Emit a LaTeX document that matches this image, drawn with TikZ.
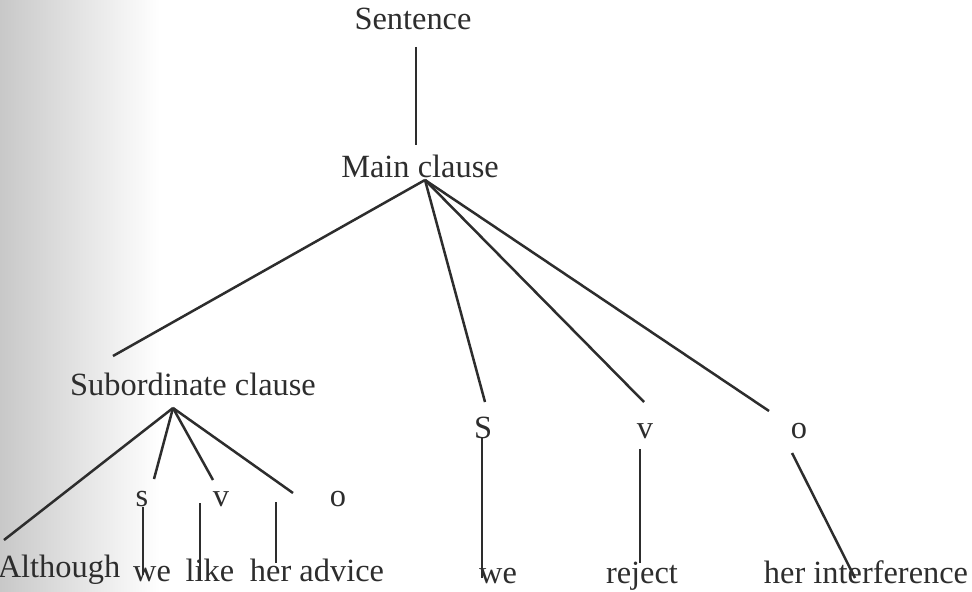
\documentclass[tikz,border=0pt]{standalone}
\usepackage{fontspec}
\setmainfont{Liberation Serif}
\usepackage{tikz}
\usetikzlibrary{positioning}
\definecolor{inkgray}{RGB}{45,45,45}
\definecolor{scangray}{RGB}{200,200,200}

\begin{document}
\begin{tikzpicture}[
  x=0.5pt, y=-0.5pt,
  word/.style={anchor=base, inner sep=0pt, text=inkgray, font=\fontsize{16.2}{19}\selectfont},
  branch/.style={draw=inkgray, line width=1.25pt},
  stem/.style={draw=inkgray, line width=0.75pt}
]
  \useasboundingbox (0,0) rectangle (972,592);
  \shade[left color=scangray, right color=white] (0,0) rectangle (160,592);

  % top of the tree
  \node[word](sentence) at (413,30){Sentence};
  \node[word](mainclause) at (420,178){Main clause};
  \node[word](subclause) at (193,395){Subordinate clause};

  % labels of the functions
  \node[word](subS) at (142,506){s};
  \node[word](subV) at (221,506){v};
  \node[word](subO) at (338,506){o};
  \node[word](mainS) at (483,438){S};
  \node[word](mainV) at (645,438){v};
  \node[word](mainO) at (799,438){o};

  % the words
  \node[word](although) at (59,577){Although};
  \node[word](we1) at (152,581){we};
  \node[word](like) at (210,581){like};
  \node[word](advice) at (317,581){her advice};
  \node[word](we2) at (498,583){we};
  \node[word](reject) at (642,583){reject};
  \node[word](interf) at (866,583){her interference};

  % points where the lines start and stop
  \coordinate (sentenceEnd) at (416,47);
  \coordinate (mainTop) at (416,145);
  \coordinate (mainApex) at (425,180);
  \coordinate (subTop) at (113,356);
  \coordinate (mainSTop) at (485,402);
  \coordinate (mainVTop) at (644,402);
  \coordinate (mainOTop) at (769,411);
  \coordinate (subApex) at (173,408);
  \coordinate (althoughTop) at (4,540);
  \coordinate (subSTop) at (154,479);
  \coordinate (subVTop) at (213,480);
  \coordinate (subOTop) at (293,493);

  \draw[branch](sentenceEnd)--(mainTop);
  \draw[branch](mainApex)--(subTop);
  \draw[branch](mainApex)--(mainSTop);
  \draw[branch](mainApex)--(mainVTop);
  \draw[branch](mainApex)--(mainOTop);
  \draw[branch](subApex)--(althoughTop);
  \draw[branch](subApex)--(subSTop);
  \draw[branch](subApex)--(subVTop);
  \draw[branch](subApex)--(subOTop);

  % stems down to the words
  \coordinate (s1a) at (143,507);  \coordinate (s1b) at (143,575);
  \coordinate (v1a) at (200,503);  \coordinate (v1b) at (200,580);
  \coordinate (o1a) at (276,502);  \coordinate (o1b) at (276,563);
  \coordinate (s2a) at (482,438);  \coordinate (s2b) at (482,578);
  \coordinate (v2a) at (640,449);  \coordinate (v2b) at (640,563);
  \coordinate (o2a) at (792,453);  \coordinate (o2b) at (855,578);
  \draw[stem](s1a)--(s1b);
  \draw[stem](v1a)--(v1b);
  \draw[stem](o1a)--(o1b);
  \draw[stem](s2a)--(s2b);
  \draw[stem](v2a)--(v2b);
  \draw[branch](o2a)--(o2b);
\end{tikzpicture}
\end{document}
